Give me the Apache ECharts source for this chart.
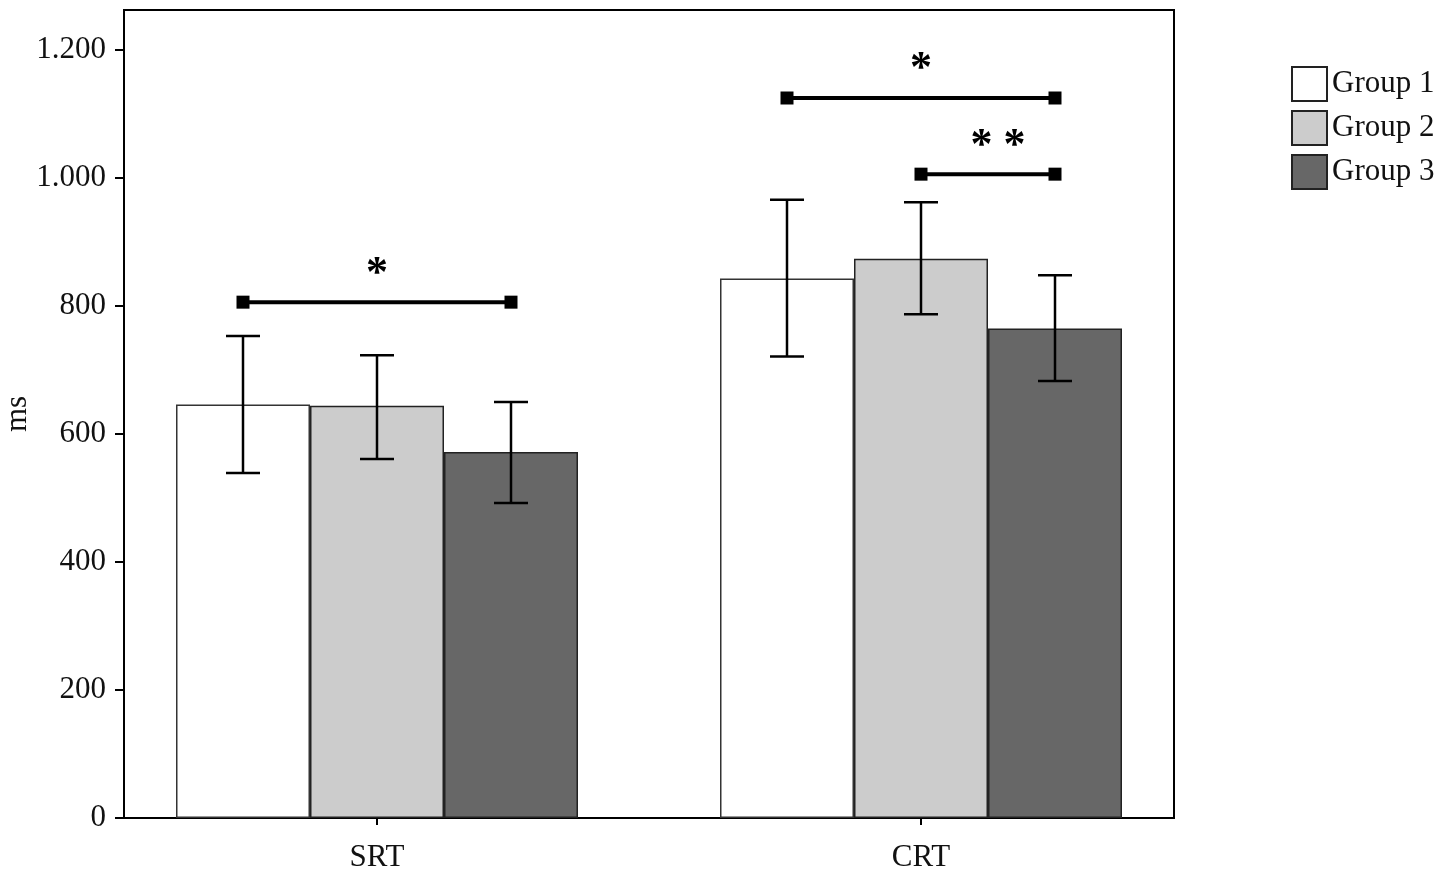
<!DOCTYPE html>
<html><head><meta charset="utf-8">
<script src="https://cdn.jsdelivr.net/npm/echarts@6/dist/echarts.min.js"></script>
<style>html,body{margin:0;padding:0;background:#fff}#c{width:1450px;height:871px}</style>
</head><body><div id="c"></div>
<script>
const categories = ['SRT', 'CRT'];
const groups = ['Group 1', 'Group 2', 'Group 3'];
const group1 = [646, 843];
const group2 = [644, 874];
const group3 = [572, 765];
const errLow  = [[539, 561, 492], [721, 787, 683]];
const errHigh = [[753, 723, 650], [966, 962, 848]];
const yTicks = [0, 200, 400, 600, 800, 1000, 1200];
const yTickLabels = ['0', '200', '400', '600', '800', '1.000', '1.200'];
const sigCategory = [0, 1, 1];
const sigFrom = [0, 0, 1];
const sigTo = [2, 2, 2];
const sigY = [806, 1125, 1006];
const sigLabel = ['*', '*', '* *'];

const FONT = '"Liberation Serif", "DejaVu Serif", serif';
const BAR_W = 134;
const colors = ['#ffffff', '#cccccc', '#676767'];
const Y_MAX = 1262.5;

function groupX(api, cat, g, val) {
  const p = api.coord([cat, val]);
  return [p[0] + (g - 1) * BAR_W, p[1]];
}

const errData = [];
categories.forEach((c, ci) => groups.forEach((g, gi) => errData.push([ci, gi, errLow[ci][gi], errHigh[ci][gi]])));
const sigData = sigCategory.map((c, i) => [c, sigFrom[i], sigTo[i], sigY[i], i]);

const chart = echarts.init(document.getElementById('c'));
chart.setOption({
  animation: false,
  backgroundColor: '#fff',
  grid: [
    {left: 124, right: 276, top: 10, bottom: 53, show: true, borderColor: '#000', borderWidth: 2,
     backgroundColor: 'transparent', containLabel: false, outerBoundsMode: 'none'},
    {left: 105, right: 257, top: 10, bottom: 53, show: false, containLabel: false, outerBoundsMode: 'none'}
  ],
  legend: {
    data: groups, orient: 'vertical', left: 1286, top: 61, icon: 'rect',
    itemWidth: 35, itemHeight: 34, itemGap: 8,
    itemStyle: {borderColor: '#222', borderWidth: 2},
    textStyle: {fontFamily: FONT, fontSize: 31, color: '#111', padding: [0, 0, 0, 0]}
  },
  xAxis: [
    {gridIndex: 0, type: 'value', min: 0, max: 1, show: false},
    {gridIndex: 1, type: 'category', data: categories,
     axisLine: {show: false},
     axisTick: {show: true, alignWithLabel: true, length: 7, lineStyle: {color: '#000', width: 2}},
     axisLabel: {fontFamily: FONT, fontSize: 31, color: '#111', margin: 24}}
  ],
  yAxis: [
    {gridIndex: 0, type: 'value', min: 0, max: Y_MAX, interval: 200,
     name: 'ms', nameLocation: 'middle', nameGap: 91, nameRotate: 90, nameMoveOverlap: false,
     nameTextStyle: {fontFamily: FONT, fontSize: 31, color: '#111'},
     axisLine: {show: true, onZero: false, lineStyle: {color: '#000', width: 2}},
     axisTick: {show: true, length: 9, customValues: yTicks, lineStyle: {color: '#000', width: 2}},
     splitLine: {show: false},
     axisLabel: {fontFamily: FONT, fontSize: 31, color: '#111', margin: 18, customValues: yTicks,
       formatter: v => { const i = yTicks.indexOf(v); return i >= 0 ? yTickLabels[i] : ''; }}},
    {gridIndex: 1, type: 'value', min: 0, max: Y_MAX, show: false}
  ],
  series: [
    {name: groups[0], type: 'bar', xAxisIndex: 1, yAxisIndex: 1, data: group1, barWidth: BAR_W, barGap: '0%',
     itemStyle: {color: colors[0], borderColor: '#333', borderWidth: 1.5}},
    {name: groups[1], type: 'bar', xAxisIndex: 1, yAxisIndex: 1, data: group2, barWidth: BAR_W, barGap: '0%',
     itemStyle: {color: colors[1], borderColor: '#222', borderWidth: 1.5}},
    {name: groups[2], type: 'bar', xAxisIndex: 1, yAxisIndex: 1, data: group3, barWidth: BAR_W, barGap: '0%',
     itemStyle: {color: colors[2], borderColor: '#222', borderWidth: 1.5}},
    {type: 'custom', xAxisIndex: 1, yAxisIndex: 1, data: errData, z: 5,
     renderItem: (params, api) => {
       const c = api.value(0), g = api.value(1);
       const lo = groupX(api, c, g, api.value(2));
       const hi = groupX(api, c, g, api.value(3));
       const cap = 17;
       const st = {stroke: '#000', lineWidth: 2.5};
       return {type: 'group', children: [
         {type: 'line', shape: {x1: lo[0], y1: lo[1], x2: hi[0], y2: hi[1]}, style: st},
         {type: 'line', shape: {x1: hi[0] - cap, y1: hi[1], x2: hi[0] + cap, y2: hi[1]}, style: st},
         {type: 'line', shape: {x1: lo[0] - cap, y1: lo[1], x2: lo[0] + cap, y2: lo[1]}, style: st}
       ]};
     }},
    {type: 'custom', xAxisIndex: 1, yAxisIndex: 1, data: sigData, z: 6,
     renderItem: (params, api) => {
       const c = api.value(0);
       const a = groupX(api, c, api.value(1), api.value(3));
       const b = groupX(api, c, api.value(2), api.value(3));
       const s = 13;
       const label = sigLabel[api.value(4)];
       return {type: 'group', children: [
         {type: 'line', shape: {x1: a[0], y1: a[1], x2: b[0], y2: b[1]}, style: {stroke: '#000', lineWidth: 4}},
         {type: 'rect', shape: {x: a[0] - s / 2, y: a[1] - s / 2, width: s, height: s}, style: {fill: '#000'}},
         {type: 'rect', shape: {x: b[0] - s / 2, y: b[1] - s / 2, width: s, height: s}, style: {fill: '#000'}},
         {type: 'text', x: (a[0] + b[0]) / 2 + (label.length > 1 ? 10 : 0), y: a[1] - 6,
          style: {text: label, fontFamily: FONT, fontSize: 44, fontWeight: 'bold', fill: '#000', align: 'center', verticalAlign: 'bottom'}}
       ]};
     }}
  ]
});
</script></body></html>
